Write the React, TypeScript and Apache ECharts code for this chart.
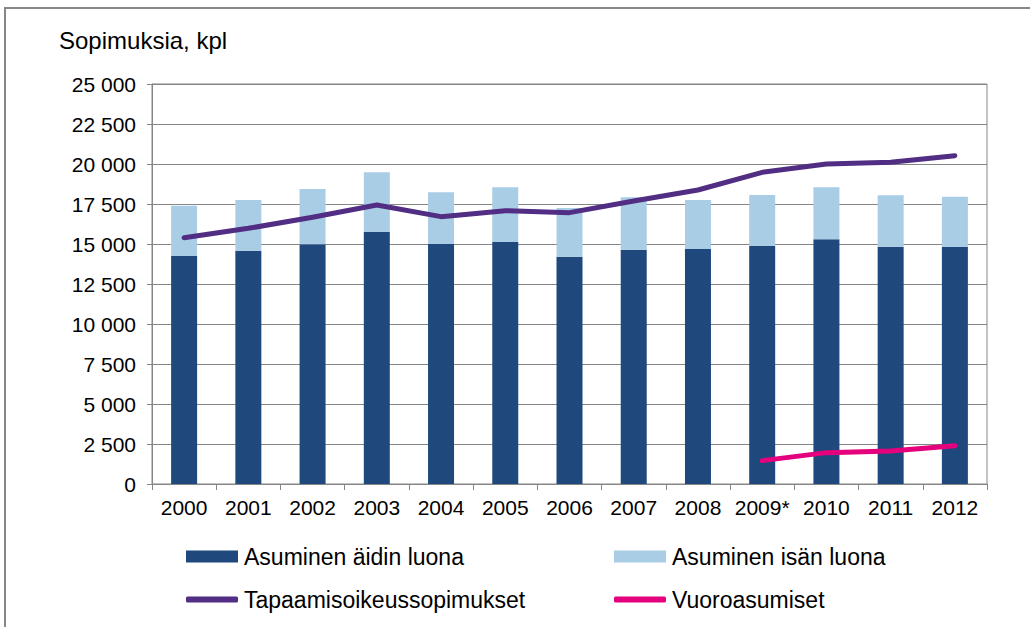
import React, { useEffect, useRef } from "react";
import * as echarts from "echarts";

const years = ["2000", "2001", "2002", "2003", "2004", "2005", "2006", "2007", "2008", "2009*", "2010", "2011", "2012"];
const mother = [14250, 14580, 14980, 15770, 15000, 15125, 14210, 14645, 14690, 14875, 15290, 14830, 14810];
const father = [3145, 3170, 3460, 3710, 3230, 3415, 3040, 3270, 3060, 3185, 3250, 3210, 3150];
const visits = [15395, 15980, 16670, 17440, 16710, 17085, 16960, 17690, 18375, 19480, 20000, 20105, 20520];
const alternating = [null, null, null, null, null, null, null, null, null, 1460, 1960, 2060, 2395];

const names = ["Asuminen äidin luona", "Asuminen isän luona", "Tapaamisoikeussopimukset", "Vuoroasumiset"];
const colors = ["#1F497D", "#A9CDE5", "#512D84", "#E5007D"];
const font = "'Liberation Sans', Arial, sans-serif";

export default function App() {
  const ref = useRef<HTMLDivElement>(null);
  useEffect(() => {
    if (!ref.current) return;
    const chart = echarts.init(ref.current, null, { renderer: "svg" });
    const legendPos = [
      { left: 186, top: 545 },
      { left: 614, top: 545 },
      { left: 186, top: 588 },
      { left: 614, top: 588 },
    ];
    chart.setOption({
      animation: false,
      textStyle: { fontFamily: font },
      grid: { left: 152, right: 43, top: 84, bottom: 143, show: true, borderColor: "#868686", borderWidth: 1 },
      legend: names.map((n, i) => ({
        data: [{ name: n, icon: i < 2 ? "rect" : "roundRect" }],
        left: legendPos[i].left,
        top: legendPos[i].top,
        padding: 0,
        itemWidth: 52,
        itemHeight: i < 2 ? 12 : 6,
        textStyle: { fontSize: 23, color: "#000", fontFamily: font, padding: [0, 0, 0, 1] },
        selectedMode: false,
      })),
      graphic: [
        {
          type: "rect",
          shape: { x: 5, y: 8, width: 1040, height: 640 },
          style: { fill: "none", stroke: "#878787", lineWidth: 2 },
          silent: true,
          z: -1,
        },
        {
          type: "text",
          x: 59,
          y: 40,
          style: { text: "Sopimuksia, kpl", font: `24px ${font}`, fill: "#000", textVerticalAlign: "middle" },
        },
      ],
      xAxis: {
        type: "category",
        data: years,
        axisLine: { lineStyle: { color: "#868686", width: 1 } },
        axisTick: { show: true, length: 6, lineStyle: { color: "#868686" } },
        axisLabel: { color: "#000", fontSize: 21, margin: 13, fontFamily: font, interval: 0 },
      },
      yAxis: {
        type: "value",
        min: 0,
        max: 25000,
        interval: 2500,
        axisLine: { show: true, lineStyle: { color: "#868686", width: 1 } },
        axisTick: { show: true, length: 5, lineStyle: { color: "#868686" } },
        splitLine: { lineStyle: { color: "#868686", width: 1 } },
        axisLabel: {
          color: "#000",
          fontSize: 21,
          margin: 16,
          fontFamily: font,
          formatter: (v: number) => (v >= 1000 ? `${Math.floor(v / 1000)} ${String(v % 1000).padStart(3, "0")}` : String(v)),
        },
      },
      series: [
        { name: names[0], type: "bar", stack: "a", data: mother, barWidth: 26, itemStyle: { color: colors[0] } },
        { name: names[1], type: "bar", stack: "a", data: father, barWidth: 26, itemStyle: { color: colors[1] } },
        {
          name: names[2],
          type: "line",
          data: visits,
          symbol: "none",
          lineStyle: { color: colors[2], width: 5, cap: "round", join: "round" },
          itemStyle: { color: colors[2] },
        },
        {
          name: names[3],
          type: "line",
          data: alternating,
          symbol: "none",
          lineStyle: { color: colors[3], width: 5, cap: "round", join: "round" },
          itemStyle: { color: colors[3] },
        },
      ],
    });
    return () => chart.dispose();
  }, []);
  return <div ref={ref} style={{ position: "fixed", left: 0, top: 0, width: 1030, height: 627, background: "#fff" }} />;
}
